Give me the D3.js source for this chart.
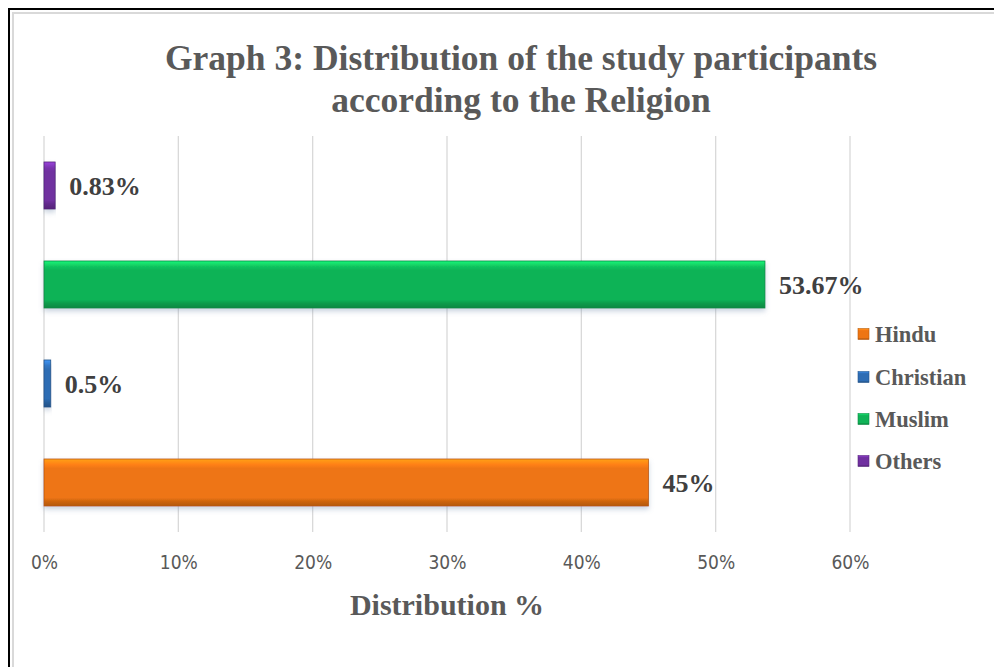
<!DOCTYPE html>
<html>
<head>
<meta charset="utf-8">
<script src="https://cdn.jsdelivr.net/npm/d3@7"></script>
<style>
  html, body { margin: 0; padding: 0; background: #fff; }
  svg { display: block; }
</style>
</head>
<body>
<svg id="chart" width="994" height="667"></svg>
<script>
const categories = ["Hindu", "Christian", "Muslim", "Others"];
const values = [45, 0.5, 53.67, 0.83];
const valueLabels = ["45%", "0.5%", "53.67%", "0.83%"];
const colors = ["#EE7513", "#2E6DB4", "#10B357", "#7030A0"];
const tickValues = [0, 10, 20, 30, 40, 50, 60];
const titleLines = ["Graph 3: Distribution of the study participants", "according to the Religion"];
const axisTitle = "Distribution %";

const svg = d3.select("#chart");
const serif = "'Liberation Serif', 'Times New Roman', serif";
const narrow = "'Liberation Sans Narrow', 'DejaVu Sans Condensed', 'Liberation Sans', sans-serif";

// frame
svg.append("rect").attr("x", 9).attr("y", 9).attr("width", 1100).attr("height", 800)
  .attr("fill", "none").attr("stroke", "#000").attr("stroke-width", 2);
svg.append("rect").attr("x", 13).attr("y", 13).attr("width", 1100).attr("height", 800)
  .attr("fill", "none").attr("stroke", "#d9d9d9").attr("stroke-width", 2);

const x = d3.scaleLinear().domain([0, 60]).range([44, 850]);
const y = d3.scaleBand().domain(categories).range([532, 136]).paddingInner(0.525).paddingOuter(0.2625);

const defs = svg.append("defs");
const shadow = defs.append("filter").attr("id", "shadow").attr("x", "-5%").attr("y", "-20%").attr("width", "110%").attr("height", "160%");
shadow.append("feDropShadow").attr("dx", 0).attr("dy", 3).attr("stdDeviation", 2.5)
  .attr("flood-color", "#6b86a8").attr("flood-opacity", 0.35);

categories.forEach((c, i) => {
  const base = d3.color(colors[i]);
  const g = defs.append("linearGradient").attr("id", "grad" + i)
    .attr("x1", 0).attr("y1", 0).attr("x2", 0).attr("y2", 1);
  g.append("stop").attr("offset", "0%").attr("stop-color", base.brighter(0.9));
  g.append("stop").attr("offset", "12%").attr("stop-color", base.brighter(0.25));
  g.append("stop").attr("offset", "20%").attr("stop-color", base);
  g.append("stop").attr("offset", "82%").attr("stop-color", base);
  g.append("stop").attr("offset", "90%").attr("stop-color", base.darker(0.4));
  g.append("stop").attr("offset", "100%").attr("stop-color", base.darker(0.8));
});

// gridlines
svg.append("g").selectAll("line").data(tickValues).join("line")
  .attr("x1", d => x(d)).attr("x2", d => x(d))
  .attr("y1", 136).attr("y2", 532)
  .attr("stroke", "#d9d9d9").attr("stroke-width", 1.3);

// tick labels via axis
const axis = d3.axisBottom(x).tickValues(tickValues).tickFormat(d => d + "%").tickSize(0).tickPadding(0);
const ag = svg.append("g").attr("transform", "translate(0,555)").call(axis);
ag.select(".domain").remove();
ag.selectAll("text").attr("font-family", narrow).attr("font-size", 19).attr("fill", "#595959").attr("dy", "0.75em");

// bars
const data = categories.map((c, i) => ({ c, v: values[i], label: valueLabels[i], i }));
svg.append("g").selectAll("rect").data(data).join("rect")
  .attr("x", x(0)).attr("y", d => y(d.c))
  .attr("width", d => x(d.v) - x(0)).attr("height", y.bandwidth())
  .attr("fill", d => `url(#grad${d.i})`)
  .attr("stroke", d => d3.color(colors[d.i]).darker(0.7))
  .attr("stroke-width", 0.8)
  .attr("filter", "url(#shadow)");

// value labels
svg.append("g").selectAll("text").data(data).join("text")
  .attr("x", d => x(d.v) + 14)
  .attr("y", d => y(d.c) + y.bandwidth() / 2 + 9)
  .attr("font-family", serif).attr("font-weight", "bold").attr("font-size", 26)
  .attr("fill", "#404040").text(d => d.label);

// title
svg.append("text").attr("x", 521).attr("y", 70).attr("text-anchor", "middle")
  .attr("font-family", serif).attr("font-weight", "bold").attr("font-size", 35.5).attr("fill", "#595959")
  .selectAll("tspan").data(titleLines).join("tspan")
  .attr("x", 521).attr("dy", (d, i) => i === 0 ? 0 : 42).text(d => d);

// axis title
svg.append("text").attr("x", 447).attr("y", 615).attr("text-anchor", "middle")
  .attr("font-family", serif).attr("font-weight", "bold").attr("font-size", 30).attr("fill", "#595959")
  .text(axisTitle);

// legend
const legY = [334, 377, 419, 461];
const leg = svg.append("g").selectAll("g").data(data).join("g")
  .attr("transform", (d, i) => `translate(858,${legY[i]})`);
leg.append("rect").attr("x", 0).attr("y", -5.5).attr("width", 11).attr("height", 11)
  .attr("fill", d => `url(#grad${d.i})`).attr("stroke", d => d3.color(colors[d.i]).darker(0.7)).attr("stroke-width", 0.6);
leg.append("text").attr("x", 17).attr("y", 7.5)
  .attr("font-family", serif).attr("font-weight", "bold").attr("font-size", 22.5).attr("fill", "#595959")
  .text(d => d.c);
</script>
</body>
</html>
